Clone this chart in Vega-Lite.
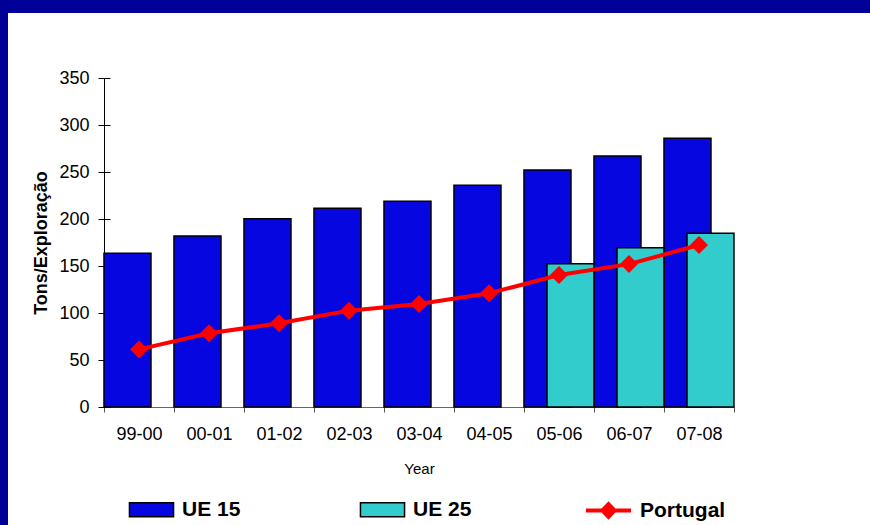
{
  "$schema": "https://vega.github.io/schema/vega-lite/v6.json",
  "width": 862,
  "height": 512,
  "autosize": {"type": "none"},
  "padding": {"left": 8, "top": 13, "right": 0, "bottom": 0},
  "background": "#000099",
  "config": {
    "font": "Liberation Sans",
    "view": {"fill": "#ffffff", "stroke": null}
  },
  "data": {
    "values": [
      {"year": "99-00", "series": "UE 15", "value": 163.5},
      {"year": "00-01", "series": "UE 15", "value": 182},
      {"year": "01-02", "series": "UE 15", "value": 200.3},
      {"year": "02-03", "series": "UE 15", "value": 211.4},
      {"year": "03-04", "series": "UE 15", "value": 219},
      {"year": "04-05", "series": "UE 15", "value": 236},
      {"year": "05-06", "series": "UE 15", "value": 252},
      {"year": "06-07", "series": "UE 15", "value": 267},
      {"year": "07-08", "series": "UE 15", "value": 286},
      {"year": "05-06", "series": "UE 25", "value": 152.5},
      {"year": "06-07", "series": "UE 25", "value": 169.5},
      {"year": "07-08", "series": "UE 25", "value": 184.8},
      {"year": "99-00", "series": "Portugal", "value": 61.3},
      {"year": "00-01", "series": "Portugal", "value": 78.4},
      {"year": "01-02", "series": "Portugal", "value": 89},
      {"year": "02-03", "series": "Portugal", "value": 102.5},
      {"year": "03-04", "series": "Portugal", "value": 109.6},
      {"year": "04-05", "series": "Portugal", "value": 121},
      {"year": "05-06", "series": "Portugal", "value": 140.4},
      {"year": "06-07", "series": "Portugal", "value": 152},
      {"year": "07-08", "series": "Portugal", "value": 172.3}
    ]
  },
  "resolve": {"axis": {"y": "independent"}},
  "encoding": {
    "x": {
      "field": "year",
      "type": "nominal",
      "sort": null,
      "scale": {"range": [96, 726], "paddingInner": 0, "paddingOuter": 0},
      "axis": {
        "title": "Year",
        "orient": "bottom",
        "offset": -118,
        "labelAngle": 0,
        "labelFontSize": 18,
        "labelColor": "#000000",
        "labelPadding": 13,
        "tickSize": 5,
        "tickBand": "extent",
        "tickColor": "#555555",
        "domainColor": "#666666",
        "titleFontSize": 15,
        "titleFontWeight": "normal",
        "titleColor": "#000000",
        "titlePadding": 18
      }
    }
  },
  "layer": [
    {
      "transform": [{"filter": "datum.series !== 'Portugal'"}],
      "mark": {"type": "bar", "stroke": "#000000", "strokeWidth": 1.5, "width": {"band": 2.0435}},
      "encoding": {
        "y": {
          "field": "value",
          "type": "quantitative",
          "scale": {"domain": [0, 350], "range": [394, 65], "nice": false},
          "axis": {
            "title": "Tons/Exploração",
            "orient": "left",
            "offset": -96,
            "values": [0, 50, 100, 150, 200, 250, 300, 350],
            "grid": false,
            "labelFontSize": 18,
            "labelColor": "#000000",
            "labelPadding": 9,
            "tickSize": 6,
            "tickColor": "#000000",
            "domainColor": "#000000",
            "titleFontSize": 18,
            "titleFontWeight": "bold",
            "titleColor": "#000000",
            "titlePadding": 8
          }
        },
        "xOffset": {
          "field": "series",
          "type": "nominal",
          "scale": {"domain": ["UE 15", "UE 25"], "range": [36.5, 82.5], "paddingInner": 0, "paddingOuter": 0}
        },
        "fill": {
          "field": "series",
          "type": "nominal",
          "scale": {"domain": ["UE 15", "UE 25"], "range": ["#0606e0", "#33cccc"]},
          "legend": {
            "title": null,
            "orient": "none",
            "legendX": 120,
            "legendY": 473,
            "direction": "horizontal",
            "padding": 0,
            "columnPadding": 116,
            "labelFontSize": 21,
            "labelFontWeight": "bold",
            "labelColor": "#000000",
            "labelOffset": 7,
            "symbolSize": 2025,
            "symbolType": "M-0.98,-0.31H0.98V0.31H-0.98Z",
            "symbolStrokeColor": "#000000",
            "symbolStrokeWidth": 1.5,
            "symbolOpacity": 1
          }
        }
      }
    },
    {
      "transform": [{"filter": "datum.series === 'Portugal'"}],
      "mark": {"type": "line", "strokeWidth": 4},
      "encoding": {
        "y": {"field": "value", "type": "quantitative", "axis": null},
        "stroke": {
          "field": "series",
          "type": "nominal",
          "scale": {"domain": ["Portugal"], "range": ["#ff0000"]},
          "legend": {
            "title": null,
            "orient": "none",
            "legendX": 576,
            "legendY": 473,
            "direction": "horizontal",
            "padding": 0,
            "labelFontSize": 21,
            "labelFontWeight": "bold",
            "labelColor": "#000000",
            "labelOffset": 7,
            "symbolSize": 2025,
            "symbolType": "M-1,0H1M0,-0.28L0.27,0L0,0.28L-0.27,0Z",
            "symbolFillColor": "#ff0000",
            "symbolStrokeWidth": 4,
            "symbolOpacity": 1
          }
        }
      }
    },
    {
      "transform": [{"filter": "datum.series === 'Portugal'"}],
      "mark": {"type": "point", "shape": "diamond", "size": 324, "filled": true, "fill": "#ff0000", "stroke": null, "opacity": 1},
      "encoding": {
        "y": {
          "field": "value",
          "type": "quantitative",
          "axis": {
            "title": null,
            "orient": "right",
            "offset": -766,
            "values": [0, 50, 100, 150, 200, 250, 300, 350],
            "labels": false,
            "domain": false,
            "grid": false,
            "tickSize": 6,
            "tickColor": "#000000"
          }
        }
      }
    }
  ]
}
